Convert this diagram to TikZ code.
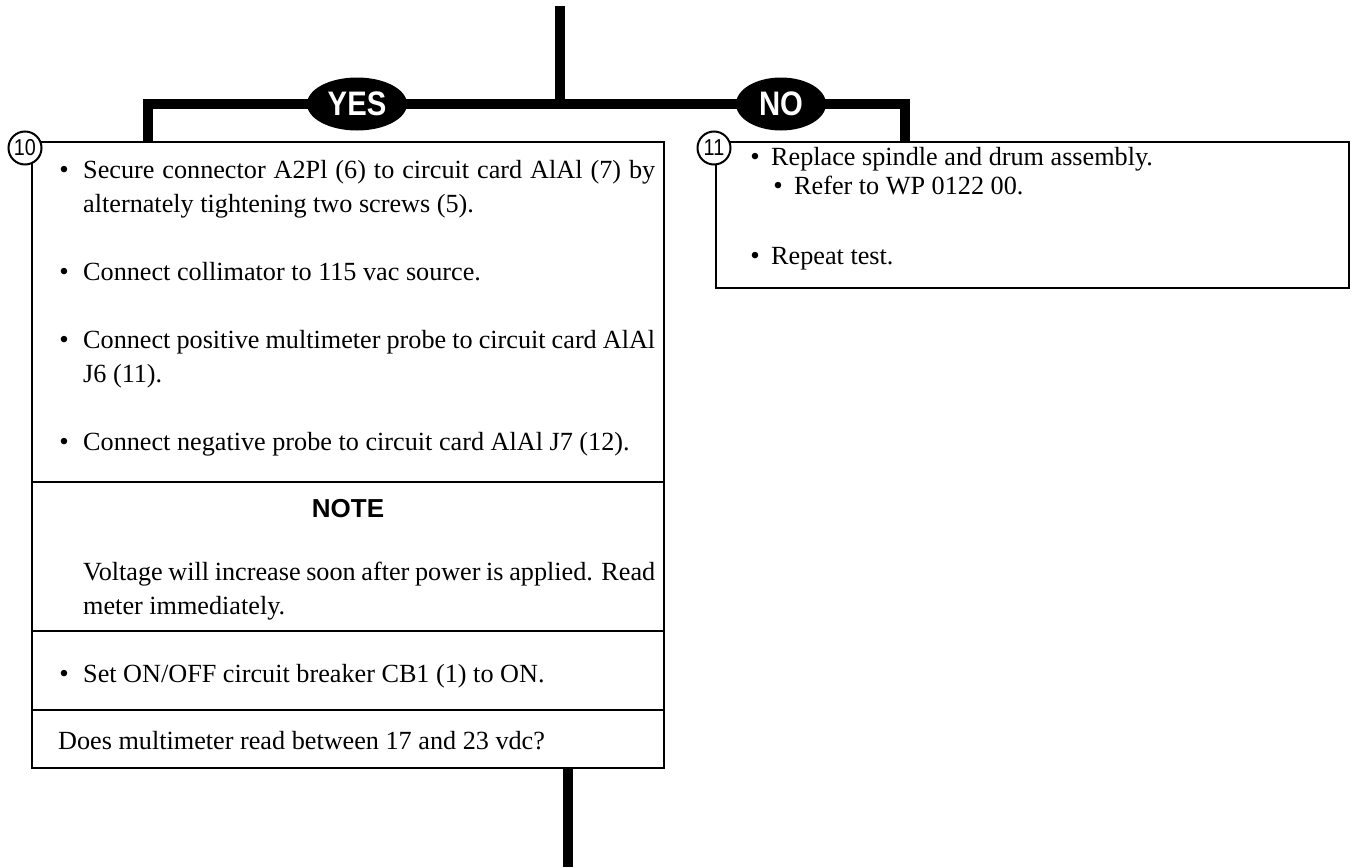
\documentclass[tikz,border=0pt]{standalone}
\usepackage{fontspec}
\setmainfont{Liberation Serif}
\newfontfamily\flowsans{Liberation Sans}
\newfontfamily\flowcond[FakeStretch=0.86]{Liberation Sans}
\usetikzlibrary{positioning, shapes.geometric}

\tikzset{
    flow/.style={line width=10pt, line cap=butt, line join=miter},
    panel/.style={draw, line width=2pt, outer sep=0pt, inner sep=0pt, anchor=north west},
    rule/.style={line width=2pt},
    answer/.style={ellipse, fill=black, text=white, inner sep=0pt, minimum height=53pt,
        font=\flowcond\bfseries\fontsize{34}{34}\selectfont},
    stepno/.style={circle, draw, line width=2pt, fill=white, minimum size=33pt, inner sep=0pt,
        font=\flowcond\fontsize{23}{23}\selectfont},
    body/.style={anchor=base west, inner sep=0pt, font=\fontsize{26.2}{34}\selectfont},
    para/.style={body, text width=572pt, align=justify},
    bulletmark/.style={anchor=base, inner sep=0pt, font=\fontsize{27}{34}\selectfont},
}

\begin{document}
\begin{tikzpicture}[x=1pt, y=-1pt]
    \useasboundingbox (0,0) rectangle (1354,867);

    % boxes
    \node[panel, minimum width=632pt, minimum height=626pt] (yesbox) at (32,142) {};
    \node[panel, minimum width=633pt, minimum height=146pt] (nobox) at (716,142) {};
    \draw[rule] (32,482) -- (664,482);
    \draw[rule] (32,631) -- (664,631);
    \draw[rule] (32,710) -- (664,710);

    % flow lines
    \coordinate (entry) at (560,6);
    \coordinate (fork) at (560,104);
    \coordinate (yesdrop) at (148,142);
    \coordinate (nodrop) at (905,142);
    \coordinate (exit) at (568,867);
    \draw[flow] (entry) -- (fork);
    \draw[flow] (yesdrop) |- (fork) -| (nodrop);
    \draw[flow] (yesbox.south -| exit) -- (exit);

    \node[answer, minimum width=100pt] (yes) at (357,104) {YES};
    \node[answer, minimum width=90pt] (no) at (781,104) {NO};

    \node[stepno] (step10) at (25,148) {10};
    \node[stepno] (step11) at (714,148) {11};

    % YES branch
    \node[bulletmark] (b1) at (64,178) {\textbullet};
    \node[para] (t1) at (83,178) {Secure connector A2Pl (6) to circuit card AlAl (7) by\linebreak alternately tightening two screws (5).};
    \node[bulletmark] (b2) at (64,280) {\textbullet};
    \node[body] (t2) at (83,280) {Connect collimator to 115 vac source.};
    \node[bulletmark] (b3) at (64,348) {\textbullet};
    \node[para] (t3) at (83,348) {Connect positive multimeter probe to circuit card AlAl\linebreak J6 (11).};
    \node[bulletmark] (b4) at (64,450) {\textbullet};
    \node[body] (t4) at (83,450) {Connect negative probe to circuit card AlAl J7 (12).};

    \node[anchor=base, inner sep=0pt, font=\flowsans\bfseries\fontsize{26}{26}\selectfont] (note) at (348,517) {NOTE};
    \node[para] (t5) at (83,580) {Voltage will increase soon after power is applied.  Read\linebreak meter immediately.};

    \node[bulletmark] (b6) at (64,682) {\textbullet};
    \node[body] (t6) at (83,682) {Set ON/OFF circuit breaker CB1 (1) to ON.};
    \node[body] (t7) at (58,749) {Does multimeter read between 17 and 23 vdc?};

    % NO branch
    \node[bulletmark] (b8) at (755,165) {\textbullet};
    \node[body] (t8) at (771,165) {Replace spindle and drum assembly.};
    \node[bulletmark] (b9) at (778,194) {\textbullet};
    \node[body] (t9) at (794,194) {Refer to WP 0122 00.};
    \node[bulletmark] (b10) at (755,264) {\textbullet};
    \node[body] (t10) at (771,264) {Repeat test.};
\end{tikzpicture}
\end{document}
